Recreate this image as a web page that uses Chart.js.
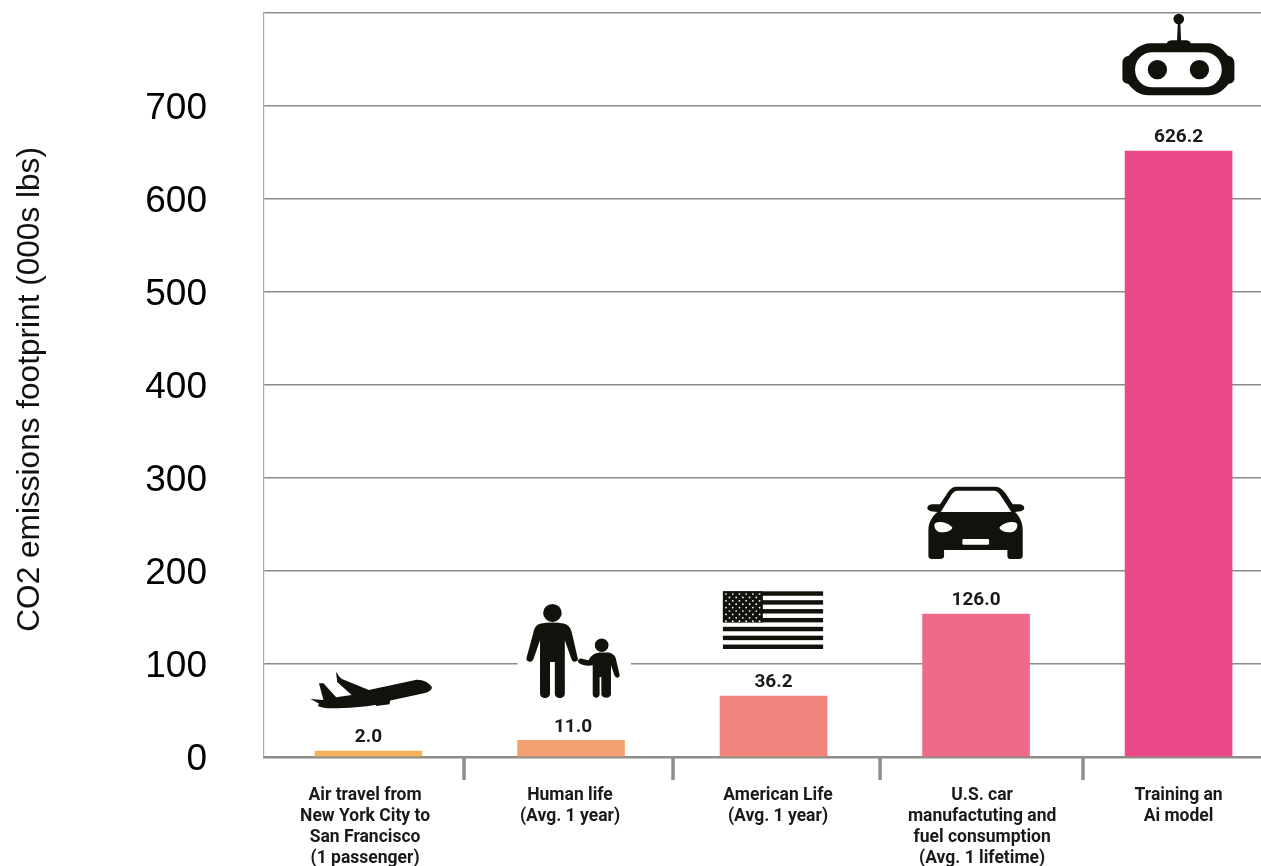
<!DOCTYPE html>
<html><head><meta charset="utf-8">
<script src="https://cdn.jsdelivr.net/npm/chart.js@4"></script>
<style>html,body{margin:0;padding:0;background:#fff;overflow:hidden}canvas{display:block}</style>
</head><body><canvas id="c" width="1261" height="866"></canvas>
<script>
const categories = [
  ["Air travel from","New York City to","San Francisco","(1 passenger)"],
  ["Human life","(Avg. 1 year)"],
  ["American Life","(Avg. 1 year)"],
  ["U.S. car","manufactuting and","fuel consumption","(Avg. 1 lifetime)"],
  ["Training an","Ai model"]
];
const barHeights = [6.5, 18, 65.6, 153.8, 651.6];
const printedValues = ["2.0","11.0","36.2","126.0","626.2"];
const barColors = ["#F9B05A","#F5A072","#F0847C","#EE6B87","#EC4786"];
const yTicks = [0,100,200,300,400,500,600,700,800];
const labelPositions = [-0.017,0.995,2.022,3.03,4];
const separators = [0.4716,1.5037,2.526,3.528];

const INK = "#12110c", GRID = "#8c8c86", TXT = "#1a1a18";

const iconPlane = new Path2D("M383,322 C375,308 355,298 335,300 L200,330 L122,297 C114,292 110,285 107,277 L105,279 L108,306 L150,345 L105,352 L68,310 L55,310 L68,360 L30,357 L55,371 L52,378 C62,383 75,385 90,385 C140,385 190,380 220,375 L222,378 L260,373 L262,362 L360,340 C375,336 383,330 383,322 Z");
const iconPeople = new Path2D(
  "M700,130 C685,132 680,145 677,160 L658,232 C655,245 672,250 678,236 L697,180 L697,340 C697,358 726,358 726,340 L726,245 L740,245 L740,340 C740,358 769,358 769,340 L769,180 L788,236 C793,250 812,245 806,232 L790,160 C787,145 780,132 765,130 C745,126 720,126 700,130 Z" +
  "M760,98 A27,27 0 1 1 706,98 A27,27 0 1 1 760,98 Z" +
  "M808,240 C812,230 822,237 838,240 C845,225 858,217 876,217 L895,217 C905,218 915,225 917,235 L928,283 C930,295 916,295 913,285 L903,255 L903,342 C903,356 876,356 875,342 L875,290 L870,290 L870,342 C870,356 850,356 850,342 L850,255 C835,258 820,255 810,248 C807,246 807,243 808,240 Z" +
  "M896,195 A20,20 0 1 1 856,195 A20,20 0 1 1 896,195 Z");
const iconCar = new Path2D(
  "M170,50 L285,50 C300,50 310,60 318,72 L338,103 L360,103 C375,105 378,120 362,124 L345,126 C360,140 368,160 368,180 L368,258 C368,265 362,267 358,267 L330,267 C325,267 322,262 322,258 L322,240 L132,240 L132,258 C132,265 126,267 120,267 L95,267 C88,267 85,262 85,258 L85,180 C85,160 95,140 112,126 L92,124 C78,120 78,105 95,103 L120,103 L140,72 C148,60 155,50 170,50 Z" +
  "M122,126 L148,85 C156,70 162,62 175,62 L280,62 C292,62 298,70 307,85 L334,126 Z" +
  "M103,165 C103,158 112,155 122,156 C140,158 152,165 157,173 C154,182 140,187 125,187 C112,187 103,178 103,165 Z" +
  "M352,165 C352,158 343,155 333,156 C315,158 303,165 298,173 C301,182 315,187 330,187 C343,187 352,178 352,165 Z" +
  "M190,207 L263,207 C266,207 267,209 267,212 L267,220 C267,223 266,224 263,224 L190,224 C188,224 187,223 187,220 L187,212 C187,209 188,207 190,207 Z");
const iconRobot = new Path2D(
  "M750,130 L800,130 C802,124 808,121 816,121 L831,121 L833,72 L841,72 L843,121 L858,121 C866,121 870,124 872,130 L925,130 C950,130 970,150 985,168 C998,170 1003,178 1003,190 L1003,235 C1003,245 998,250 985,252 C970,272 950,286 925,286 L745,286 C720,286 700,272 685,252 C672,250 667,245 667,235 L667,190 C667,178 672,170 685,168 C700,150 725,130 750,130 Z" +
  "M757,157 L913,157 C942,157 965,180 965,209 C965,239 942,262 913,262 L757,262 C728,262 705,239 705,209 C705,180 728,157 757,157 Z");
const robotBits = new Path2D("M852,57 A16,16 0 1 1 820,57 A16,16 0 1 1 852,57 Z M801,209 A29,29 0 1 1 743,209 A29,29 0 1 1 801,209 Z M927,209 A29,29 0 1 1 869,209 A29,29 0 1 1 927,209 Z");

function drawFlag(ctx){
  const l=1228,r=1519,t=34,h=173/13;
  ctx.fillStyle=INK;
  for(let i=0;i<13;i+=2) ctx.fillRect(l,t+i*h,r-l,h);
  ctx.fillRect(l,t,116,7*h);
  ctx.fillStyle="#fff";
  for(let row=0;row<9;row++){
    const n=row%2?5:6;
    for(let k=0;k<n;k++){
      const x=l+ (row%2?19:9) + k*19.5, y=t+8+row*10.2;
      ctx.beginPath();ctx.arc(x,y,2.6,0,Math.PI*2);ctx.fill();
    }
  }
}

const overlay = {
  id:"overlay",
  beforeDatasetsDraw(chart){
    const {ctx,scales:{x}}=chart;
    ctx.save();
    ctx.fillStyle="#8f8f8a";
    separators.forEach(v=>{ctx.fillRect(x.getPixelForValue(v)-1.75,757,3.5,23);});
    ctx.restore();
  },
  afterDatasetsDraw(chart){
    const {ctx}=chart;
    const bars=chart.getDatasetMeta(0).data;
    ctx.save();
    ctx.font='700 19px Roboto';
    ctx.fillStyle=TXT;ctx.textAlign="center";ctx.textBaseline="middle";
    bars.forEach((b,i)=>ctx.fillText(printedValues[i],b.x+(i===1?2:0),b.y-13.5));
    ctx.restore();
    const place=(i,dx,dy,sx,sy,fn)=>{
      ctx.save();ctx.translate(bars[i].x+dx,bars[i].y+dy);ctx.scale(sx,sy);
      ctx.fillStyle=INK;fn();ctx.restore();
    };
    place(0,-68.5,-171,1/2.904,1/3,()=>ctx.fill(iconPlane));
    place(1,-271,-160,1/2.904,1/3,()=>{
      ctx.fillStyle="#fff";ctx.fillRect(632,240,329,24);
      ctx.fillStyle=INK;ctx.fill(iconPeople);
    });
    place(2,-473.5,-116,1/2.904,1/3,()=>drawFlag(ctx));
    place(3,-76,-144,1/3,1/3,()=>ctx.fill(iconCar,"evenodd"));
    place(4,-278.5,-151,1/3,1/3,()=>{ctx.fill(iconRobot,"evenodd");ctx.fill(robotBits);});
  }
};

new Chart(document.getElementById("c"),{
  type:"bar",
  data:{datasets:[{
    data:barHeights.map((v,i)=>({x:i,y:v})),
    backgroundColor:barColors,
    barThickness:107,
    borderWidth:0
  }]},
  plugins:[overlay],
  options:{
    responsive:false,animation:false,
    layout:{padding:{top:13,right:0,bottom:0,left:0}},
    plugins:{legend:{display:false},tooltip:{enabled:false}},
    scales:{
      x:{
        type:"linear",offset:false,min:-0.516,max:4.407,
        afterBuildTicks(s){s.ticks=labelPositions.map(v=>({value:v}));},
        afterFit(s){s.height=109;s.paddingLeft=0;s.paddingRight=0;},
        grid:{display:false,drawTicks:false},
        border:{display:true,color:GRID,width:2.5},
        ticks:{
          autoSkip:false,maxRotation:0,minRotation:0,padding:28,color:TXT,
          font:{family:"Roboto",size:17.5,weight:"700",lineHeight:1.2},
          callback:(v,i)=>categories[i]
        }
      },
      y:{
        min:0,max:800,
        afterBuildTicks(s){s.ticks=yTicks.map(v=>({value:v}));},
        afterFit(s){s.width=264;s.paddingTop=0;s.paddingBottom=0;},
        grid:{color:GRID,lineWidth:1.5,drawTicks:false},
        border:{display:true,color:"#aaaaaa",width:1.2},
        title:{display:true,text:"CO2 emissions footprint (000s lbs) ",color:"#111",
          font:{family:"Liberation Sans",size:31.6,lineHeight:1.2},padding:{top:11,bottom:0}},
        ticks:{padding:57,labelOffset:3,color:"#000",font:{family:"Liberation Sans",size:37},
          callback:v=>v===800?"":String(v)}
      }
    }
  }
});
</script></body></html>
